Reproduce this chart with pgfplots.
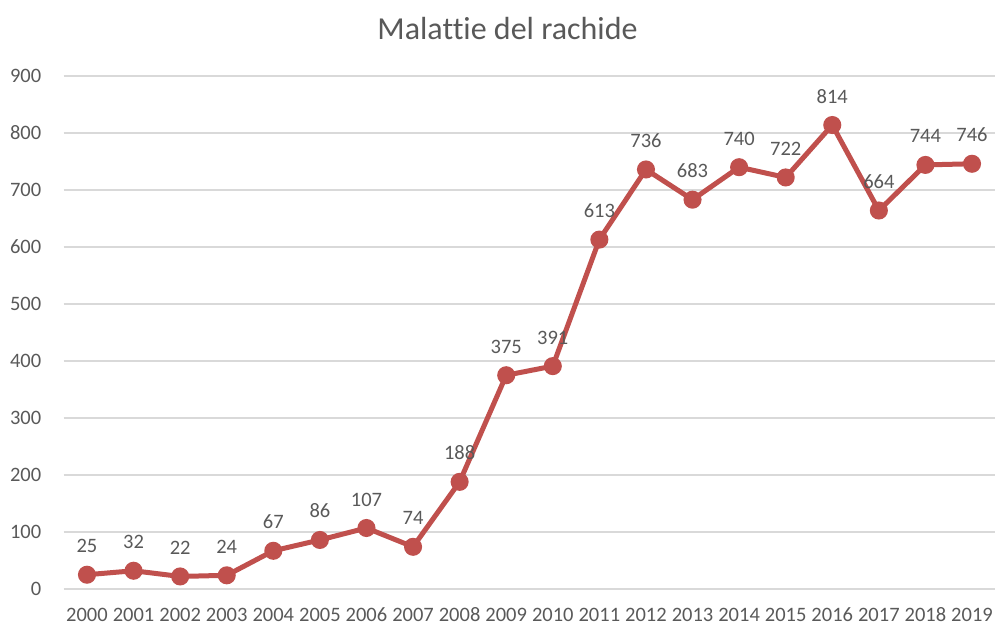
\documentclass[border=0pt]{standalone}
\usepackage{fontspec}
\setmainfont{Carlito}[Ligatures=NoCommon]
\usepackage{pgfplots}
\pgfplotsset{compat=1.18}
\definecolor{txtgrey}{HTML}{595959}
\definecolor{gridgrey}{HTML}{D9D9D9}
\definecolor{xlred}{HTML}{C0504D}

\begin{document}
\begin{tikzpicture}
\begin{axis}[
    scale only axis,
    width=931.6bp, height=513bp,
    xmin=-0.5, xmax=19.5, ymin=0, ymax=900,
    xtick={0,...,19},
    xticklabels={2000,2001,2002,2003,2004,2005,2006,2007,2008,2009,
                 2010,2011,2012,2013,2014,2015,2016,2017,2018,2019},
    ytick={0,100,...,900},
    axis line style={draw=none},
    major tick length=0pt,
    ymajorgrids, grid style={gridgrey, line width=1.5bp},
    tick label style={font=\fontsize{20.5bp}{24bp}\selectfont, text=txtgrey},
    /pgf/number format/assume math mode=true,
    yticklabel style={anchor=base east, xshift=-19bp, yshift=-7bp},
    xticklabel style={anchor=base, yshift=-33bp},
    title={Malattie del rachide},
    title style={font=\fontsize{32bp}{38bp}\selectfont, text=txtgrey,
                 at={(0.5,1)}, anchor=base, xshift=-22bp, yshift=31bp},
    nodes near coords,
    every node near coord/.append style={font=\fontsize{20.5bp}{24bp}\selectfont,
        text=txtgrey, anchor=base, yshift=22bp,
        /pgf/number format/assume math mode=true},
    clip=false,
]
\addplot[xlred, line width=5bp, mark=*, mark size=6.5bp,
         mark options={fill=xlred, draw=none}]
  coordinates {
    (0,25) (1,32) (2,22) (3,24) (4,67) (5,86) (6,107) (7,74) (8,188) (9,375)
    (10,391) (11,613) (12,736) (13,683) (14,740) (15,722) (16,814) (17,664)
    (18,744) (19,746)
  };
\coordinate (sw) at (rel axis cs:0,0);
\coordinate (ne) at (rel axis cs:1,1);
\end{axis}
\pgfresetboundingbox
\path[use as bounding box] ([xshift=-63.7bp,yshift=-37bp]sw) rectangle ([xshift=0.7bp,yshift=76bp]ne);
\end{tikzpicture}
\end{document}
